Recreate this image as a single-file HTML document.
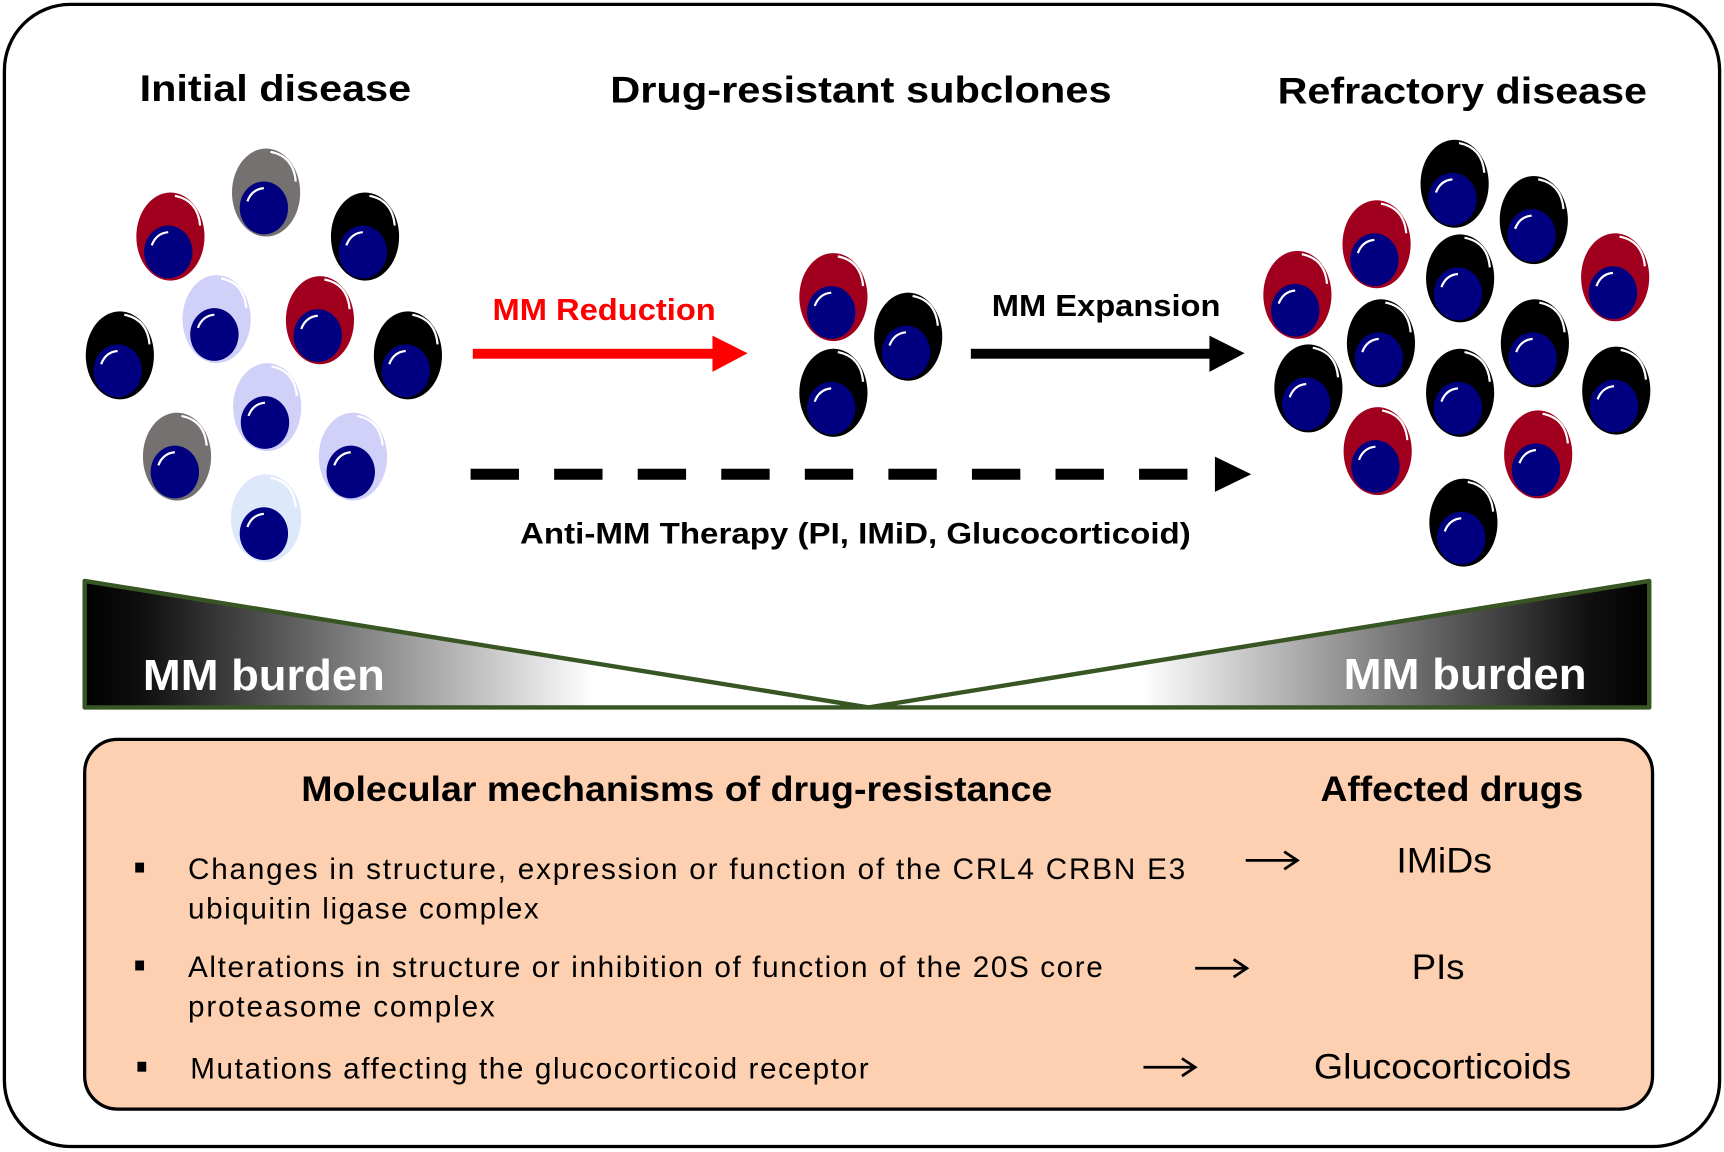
<!DOCTYPE html>
<html><head><meta charset="utf-8"><style>html,body{margin:0;padding:0;background:#fff}svg{display:block}</style></head>
<body>
<svg width="1724" height="1152" viewBox="0 0 1568 1047" preserveAspectRatio="none" xmlns="http://www.w3.org/2000/svg" font-family="Liberation Sans, Arial, sans-serif">
<defs>
<g id="nuc">
<ellipse cx="-2" cy="14" rx="22" ry="24" fill="#000080"/>
<path d="M-17 8 Q-13 -3 -2 -4" stroke="#fff" stroke-width="2" fill="none"/>
</g>
<path id="hl" d="M4 -37 Q25 -33 27 -10" stroke="#fff" stroke-width="2" fill="none"/>
<linearGradient id="gl" x1="0" x2="1" y1="0" y2="0"><stop offset="0" stop-color="#000"/><stop offset="0.08" stop-color="#111"/><stop offset="0.65" stop-color="#fff"/></linearGradient>
<linearGradient id="gr" x1="1" x2="0" y1="0" y2="0"><stop offset="0" stop-color="#000"/><stop offset="0.08" stop-color="#111"/><stop offset="0.65" stop-color="#fff"/></linearGradient>
</defs>
<rect x="4" y="4" width="1560" height="1038" rx="60" fill="#fff" stroke="#000" stroke-width="3"/>

<g font-weight="bold" font-size="34">
<text x="127" y="92" textLength="247" lengthAdjust="spacingAndGlyphs">Initial disease</text>
<text x="555" y="93" textLength="456" lengthAdjust="spacingAndGlyphs">Drug-resistant subclones</text>
<text x="1162" y="94" textLength="336" lengthAdjust="spacingAndGlyphs">Refractory disease</text>
</g>

<g>
<g transform="translate(242,175)"><ellipse rx="31" ry="40" fill="#767171"/><use href="#hl"/><use href="#nuc"/></g>
<g transform="translate(155,215)"><ellipse rx="31" ry="40" fill="#a0001e"/><use href="#hl"/><use href="#nuc"/></g>
<g transform="translate(332,215)"><ellipse rx="31" ry="40" fill="#000"/><use href="#hl"/><use href="#nuc"/></g>
<g transform="translate(197,290)"><ellipse rx="31" ry="40" fill="#d0d0f8"/><use href="#hl"/><use href="#nuc"/></g>
<g transform="translate(291,291)"><ellipse rx="31" ry="40" fill="#a0001e"/><use href="#hl"/><use href="#nuc"/></g>
<g transform="translate(109,323)"><ellipse rx="31" ry="40" fill="#000"/><use href="#hl"/><use href="#nuc"/></g>
<g transform="translate(371,323)"><ellipse rx="31" ry="40" fill="#000"/><use href="#hl"/><use href="#nuc"/></g>
<g transform="translate(243,370)"><ellipse rx="31" ry="40" fill="#d0d0f8"/><use href="#hl"/><use href="#nuc"/></g>
<g transform="translate(161,415)"><ellipse rx="31" ry="40" fill="#767171"/><use href="#hl"/><use href="#nuc"/></g>
<g transform="translate(321,415)"><ellipse rx="31" ry="40" fill="#d0d0f8"/><use href="#hl"/><use href="#nuc"/></g>
<g transform="translate(242,471)"><ellipse rx="32" ry="40" fill="#dde8fa"/><use href="#hl"/><use href="#nuc"/></g>

<g transform="translate(758,270)"><ellipse rx="31" ry="40" fill="#a0001e"/><use href="#hl"/><use href="#nuc"/></g>
<g transform="translate(826,306)"><ellipse rx="31" ry="40" fill="#000"/><use href="#hl"/><use href="#nuc"/></g>
<g transform="translate(758,357)"><ellipse rx="31" ry="40" fill="#000"/><use href="#hl"/><use href="#nuc"/></g>

<g transform="translate(1323,167)"><ellipse rx="31" ry="40" fill="#000"/><use href="#hl"/><use href="#nuc"/></g>
<g transform="translate(1252,222)"><ellipse rx="31" ry="40" fill="#a0001e"/><use href="#hl"/><use href="#nuc"/></g>
<g transform="translate(1395,200)"><ellipse rx="31" ry="40" fill="#000"/><use href="#hl"/><use href="#nuc"/></g>
<g transform="translate(1180,268)"><ellipse rx="31" ry="40" fill="#a0001e"/><use href="#hl"/><use href="#nuc"/></g>
<g transform="translate(1328,253)"><ellipse rx="31" ry="40" fill="#000"/><use href="#hl"/><use href="#nuc"/></g>
<g transform="translate(1469,252)"><ellipse rx="31" ry="40" fill="#a0001e"/><use href="#hl"/><use href="#nuc"/></g>
<g transform="translate(1256,312)"><ellipse rx="31" ry="40" fill="#000"/><use href="#hl"/><use href="#nuc"/></g>
<g transform="translate(1396,312)"><ellipse rx="31" ry="40" fill="#000"/><use href="#hl"/><use href="#nuc"/></g>
<g transform="translate(1190,353)"><ellipse rx="31" ry="40" fill="#000"/><use href="#hl"/><use href="#nuc"/></g>
<g transform="translate(1328,357)"><ellipse rx="31" ry="40" fill="#000"/><use href="#hl"/><use href="#nuc"/></g>
<g transform="translate(1470,355)"><ellipse rx="31" ry="40" fill="#000"/><use href="#hl"/><use href="#nuc"/></g>
<g transform="translate(1253,410)"><ellipse rx="31" ry="40" fill="#a0001e"/><use href="#hl"/><use href="#nuc"/></g>
<g transform="translate(1399,413)"><ellipse rx="31" ry="40" fill="#a0001e"/><use href="#hl"/><use href="#nuc"/></g>
<g transform="translate(1331,475)"><ellipse rx="31" ry="40" fill="#000"/><use href="#hl"/><use href="#nuc"/></g>
</g>

<rect x="430" y="317" width="222" height="9" fill="#ff0000"/>
<polygon points="648,305 680,321 648,338" fill="#ff0000"/>
<text x="448" y="291" font-size="28" font-weight="bold" fill="#ff0000" textLength="203" lengthAdjust="spacingAndGlyphs">MM Reduction</text>
<rect x="883" y="317" width="220" height="9" fill="#000"/>
<polygon points="1100,305 1132,321 1100,338" fill="#000"/>
<text x="902" y="287" font-size="28" font-weight="bold" textLength="208" lengthAdjust="spacingAndGlyphs">MM Expansion</text>
<line x1="428" y1="431" x2="1085" y2="431" stroke="#000" stroke-width="10" stroke-dasharray="44,32"/>
<polygon points="1105,415 1138,431 1105,447" fill="#000"/>
<text x="473" y="494" font-size="27" font-weight="bold" textLength="610" lengthAdjust="spacingAndGlyphs">Anti-MM Therapy (PI, IMiD, Glucocorticoid)</text>

<polygon points="77,528 77,643 790,643" fill="url(#gl)" stroke="#375623" stroke-width="4" stroke-linejoin="round"/>
<polygon points="1500,528 1500,643 790,643" fill="url(#gr)" stroke="#375623" stroke-width="4" stroke-linejoin="round"/>
<text x="130" y="627" font-size="40" font-weight="bold" fill="#fff" textLength="220" lengthAdjust="spacingAndGlyphs">MM burden</text>
<text x="1222" y="626" font-size="40" font-weight="bold" fill="#fff" textLength="221" lengthAdjust="spacingAndGlyphs">MM burden</text>

<rect x="77" y="672" width="1426" height="336" rx="30" fill="#fcd0b0" stroke="#000" stroke-width="3"/>
<g font-size="32" font-weight="bold">
<text x="274" y="728" textLength="683" lengthAdjust="spacingAndGlyphs">Molecular mechanisms of drug-resistance</text>
<text x="1201" y="728" textLength="239" lengthAdjust="spacingAndGlyphs">Affected drugs</text>
</g>
<g font-size="27">
<rect x="123" y="784" width="8" height="9"/>
<text x="171" y="799" textLength="907" lengthAdjust="spacing">Changes in structure, expression or function of the CRL4 CRBN E3</text>
<text x="171" y="835" textLength="319" lengthAdjust="spacing">ubiquitin  ligase  complex</text>
<rect x="123" y="873" width="8" height="9"/>
<text x="171" y="888" textLength="832" lengthAdjust="spacing">Alterations in structure or inhibition of function of the 20S core</text>
<text x="171" y="924" textLength="279" lengthAdjust="spacing">proteasome  complex</text>
<rect x="125" y="965" width="8" height="9"/>
<text x="173" y="980" textLength="617" lengthAdjust="spacing">Mutations affecting the glucocorticoid receptor</text>
</g>
<g stroke="#000" stroke-width="2.5" fill="none">
<path d="M1133 782 H1180 M1168 774 L1180 782 L1168 790"/>
<path d="M1087 880 H1134 M1122 872 L1134 880 L1122 888"/>
<path d="M1040 970 H1087 M1075 962 L1087 970 L1075 978"/>
</g>
<g font-size="32">
<text x="1270" y="793" textLength="87" lengthAdjust="spacingAndGlyphs">IMiDs</text>
<text x="1284" y="890" textLength="48" lengthAdjust="spacingAndGlyphs">PIs</text>
<text x="1195" y="980" textLength="234" lengthAdjust="spacingAndGlyphs">Glucocorticoids</text>
</g>
</svg>
</body></html>
